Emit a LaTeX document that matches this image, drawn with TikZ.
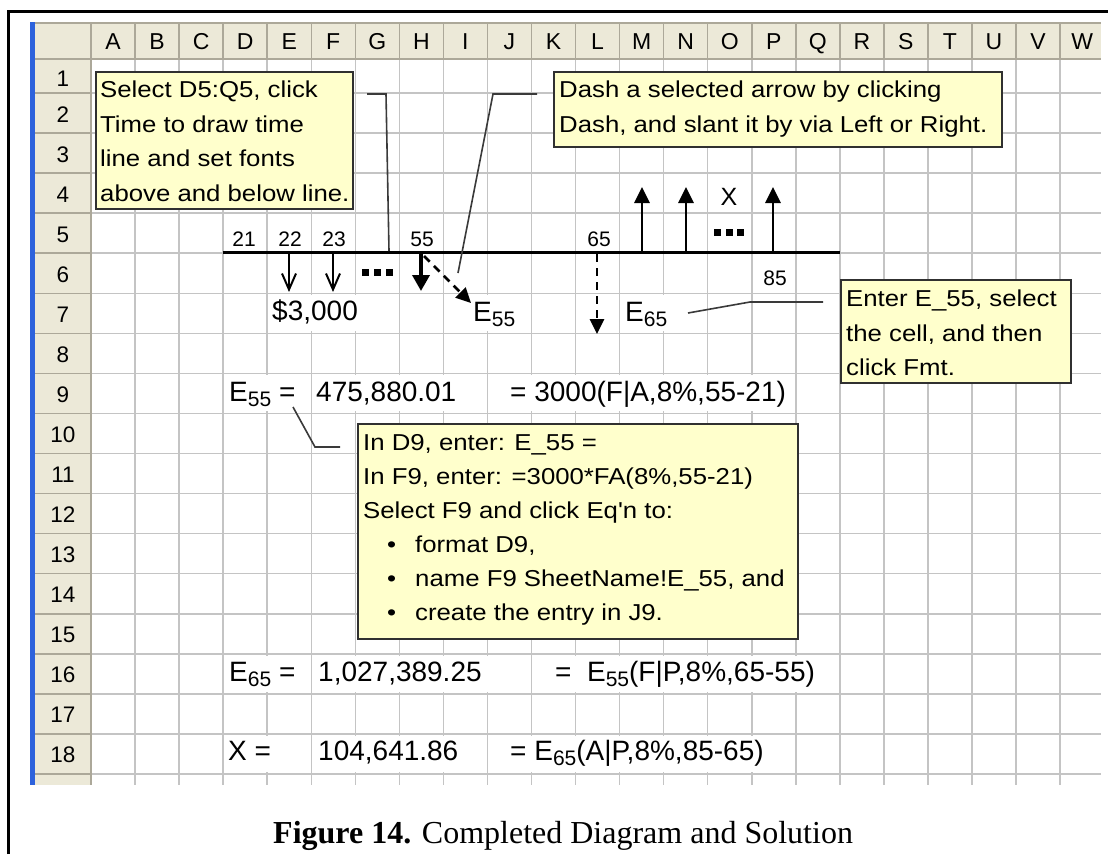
\documentclass[tikz,border=0pt]{standalone}
\usepackage{fontspec}
\setmainfont{Liberation Sans}
\newfontfamily\boxfont[FakeStretch=1.12]{Liberation Sans}
\newfontfamily\capfont{Liberation Serif}
\usetikzlibrary{arrows.meta}
\definecolor{hdr}{HTML}{ECE9D8}
\definecolor{hdrline}{HTML}{ACA899}
\definecolor{gridc}{HTML}{C4C4C4}
\definecolor{note}{HTML}{FFFFCC}
\definecolor{boxline}{HTML}{303030}
\definecolor{xpblue}{HTML}{2D62DC}
\definecolor{calloutc}{HTML}{3A3A3A}
\newcommand\lowsub[1]{\raisebox{-5pt}{\fontsize{21}{21}\selectfont #1}}
\begin{document}
\begin{tikzpicture}[x=1pt,y=-1pt,
  gridline/.style={draw=gridc, line width=1.5pt},
  hdrln/.style={draw=hdrline, line width=1.5pt},
  notebox/.style={draw=boxline, fill=note, line width=2pt, inner sep=0pt, anchor=north west},
  notetext/.style={anchor=north west, inner sep=0pt, align=left, font={\boxfont\fontsize{23}{34.4}\selectfont}},
  cell/.style={anchor=base west, inner sep=0pt, font={\fontsize{28}{28}\selectfont}},
  small/.style={anchor=base, inner sep=0pt, font={\fontsize{21}{21}\selectfont}},
  hdrtxt/.style={inner sep=0pt, text height=16pt, text depth=0pt, font={\fontsize{23}{23}\selectfont}},
  thinarr/.style={line width=2pt, -{Straight Barb[length=16pt,width=14pt,line width=2pt]}},
  arr/.style={line width=2.8pt, -{Triangle[length=16pt,width=15pt]}},
  bigarr/.style={line width=3.6pt, -{Triangle[length=16pt,width=17pt]}},
  darr/.style={line width=2.8pt, dash pattern=on 8pt off 6pt, -{Triangle[length=15pt,width=14pt]}},
  callout/.style={draw=calloutc, line width=1.6pt},
  hide/.style={draw=white, line width=3.5pt},
]
\useasboundingbox (0,0) rectangle (1108,854);
\fill[white] (0,0) rectangle (1108,854);

% grid
\foreach \i in {1,...,22} \draw[gridline] ({91+44.05*\i},59) -- ({91+44.05*\i},785);
\foreach \r in {1,...,18} \draw[gridline] (91,{93+40.06*(\r-1)}) -- (1101,{93+40.06*(\r-1)});
% hidden gridline segments (text overflow)
\foreach \i in {5,6,9,13} \draw[hide] ({91+44.05*\i},{293.3+2}) -- ++(0,36);
\foreach \i in {4,6,7,8,10,11,12,13,14,15} \draw[hide] ({91+44.05*\i},{373.4+2}) -- ++(0,36);
\foreach \i in {4,6,7,8,9,11,12,13,14,15,16} \draw[hide] ({91+44.05*\i},{653.8+2}) -- ++(0,36);
\foreach \i in {4,6,7,8,10,11,12,13,14,15} \draw[hide] ({91+44.05*\i},{734+2}) -- ++(0,36);

% headers
\fill[hdr] (35,23) rectangle (1101,59);
\fill[hdr] (35,59) rectangle (91,785);
\draw[hdrln] (35,23) -- (1101,23);
\draw[hdrln] (35,59) -- (1101,59);
\foreach \i in {0,...,22} \draw[hdrln] ({91+44.05*\i},23) -- ({91+44.05*\i},59);
\foreach \r in {1,...,18} \draw[hdrln] (35,{93+40.06*(\r-1)}) -- (91,{93+40.06*(\r-1)});
\draw[hdrln] (91,23) -- (91,785);
\fill[xpblue] (30,22) rectangle (35,785);
\foreach \l [count=\i from 0] in {A,...,W}
  \node[hdrtxt] (col\l) at ({91+44.05*\i+22},41) {\l};
\foreach \r in {1,...,18}
  \node[hdrtxt, font={\fontsize{22.5}{22.5}\selectfont}] (row\r) at (63,{\r==1 ? 78 : 93+40.06*(\r-2)+21}) {\r};

% notes
\node[notebox, minimum width=257pt, minimum height=137pt] (selbox) at (95,71) {};
\node[notetext] (seltext) at (100,80.7) {\rule{0pt}{17pt}Select D5:Q5, click\\Time to draw time\\line and set fonts\\above and below line.};
\node[notebox, minimum width=448pt, minimum height=75pt] (dashbox) at (553,71) {};
\node[notetext] (dashtext) at (559,80.7) {\rule{0pt}{17pt}Dash a selected arrow by clicking\\Dash, and slant it by via Left or Right.};
\node[notebox, minimum width=230pt, minimum height=103pt] (enterbox) at (840,279) {};
\node[notetext] (entertext) at (846,289.7) {\rule{0pt}{17pt}Enter E\_55, select\\the cell, and then\\click Fmt.};
\node[notebox, minimum width=440pt, minimum height=215pt] (dninebox) at (357,423) {};
\node[notetext, font={\boxfont\fontsize{23}{33.9}\selectfont}] (dninetext) at (363,433.7) {\rule{0pt}{17pt}In D9, enter: E\_55 =\\In F9, enter: =3000*FA(8\%,55-21)\\Select F9 and click Eq'n to:\\
\hspace*{24pt}\makebox[28pt][l]{\textbullet}format D9,\\
\hspace*{24pt}\makebox[28pt][l]{\textbullet}name F9 SheetName!E\_55, and\\
\hspace*{24pt}\makebox[28pt][l]{\textbullet}create the entry in J9.};

% time line
\coordinate (tlL) at (223,252);
\coordinate (tlR) at (840,252);
\draw[line width=3pt] (tlL) -- (tlR);
\node[small] (n21) at (244,246.7) {21};
\node[small] (n22) at (290,246.7) {22};
\node[small] (n23) at (334,246.7) {23};
\node[small] (n55) at (422,246.7) {55};
\node[small] (n65) at (599,246.7) {65};
\node[small] (n85) at (775,285) {85};
\node[anchor=base, inner sep=0pt, font={\fontsize{25}{25}\selectfont}] (nX) at (729,205) {X};

\coordinate (a22s) at (289,252); \coordinate (a22e) at (289,292);
\coordinate (a23s) at (333,252); \coordinate (a23e) at (333,292);
\coordinate (a55s) at (421,252); \coordinate (a55e) at (421,291);
\coordinate (d55s) at (424,256); \coordinate (d55e) at (471,303);
\coordinate (d65s) at (597,254); \coordinate (d65e) at (597,334);
\coordinate (uMs) at (642,252); \coordinate (uMe) at (642,187);
\coordinate (uNs) at (686,252); \coordinate (uNe) at (686,187);
\coordinate (uPs) at (773,252); \coordinate (uPe) at (773,187);
\draw[thinarr] (a22s) -- (a22e);
\draw[thinarr] (a23s) -- (a23e);
\draw[bigarr] (a55s) -- (a55e);
\draw[darr] (d55s) -- (d55e);
\draw[darr] (d65s) -- (d65e);
\draw[arr] (uMs) -- (uMe);
\draw[arr] (uNs) -- (uNe);
\draw[arr] (uPs) -- (uPe);

% ellipsis dots
\foreach \dx in {0,12,24} \fill ({362+\dx},269) rectangle ++(7,7);
\foreach \dx in {0,11.5,23} \fill ({714+\dx},228.5) rectangle ++(7,7);

% row 7 labels
\node[cell] (n3000) at (272,320.5) {\$3,000};
\node[cell] (nE55) at (473,321.7) {E\lowsub{55}};
\node[cell] (nE65) at (625,321.7) {E\lowsub{65}};

% rows 9, 16, 18
\node[cell] (d9) at (229,401) {E\lowsub{55} =};
\node[cell] (f9) at (316,401) {475,880.01};
\node[cell] (j9) at (510,401) {= 3000(F|A,8\%,55-21)};
\node[cell] (d16) at (229,681) {E\lowsub{65} =};
\node[cell] (f16) at (318,681) {1,027,389.25};
\node[cell] (k16) at (555,681) {=\ \ E\lowsub{55}(F|P,8\%,65-55)};
\node[cell] (d18) at (228,760) {X =};
\node[cell] (f18) at (318,760) {104,641.86};
\node[cell] (j18) at (510,760) {= E\lowsub{65}(A|P,8\%,85-65)};

% callout lines
\coordinate (c1a) at (367,94); \coordinate (c1b) at (386,94); \coordinate (c1c) at (389,251);
\draw[callout] (c1a) -- (c1b) -- (c1c);
\coordinate (c2a) at (537,94); \coordinate (c2b) at (493,94); \coordinate (c2c) at (458,273);
\draw[callout] (c2a) -- (c2b) -- (c2c);
\coordinate (c3a) at (688,313); \coordinate (c3b) at (750,302); \coordinate (c3c) at (823,302);
\draw[callout] (c3a) -- (c3b) -- (c3c);
\coordinate (c4a) at (293,407); \coordinate (c4b) at (315,447); \coordinate (c4c) at (340,447);
\draw[callout] (c4a) -- (c4b) -- (c4c);

% frame
\draw[line width=2.6pt] (8.7,854) -- (8.7,11.7) -- (1108,11.7);

% caption
\node[anchor=base west, inner sep=0pt, font={\capfont\fontsize{32}{32}\selectfont}] (cap) at (273,843) {\textbf{Figure 14.} Completed Diagram and Solution};
\end{tikzpicture}
\end{document}
